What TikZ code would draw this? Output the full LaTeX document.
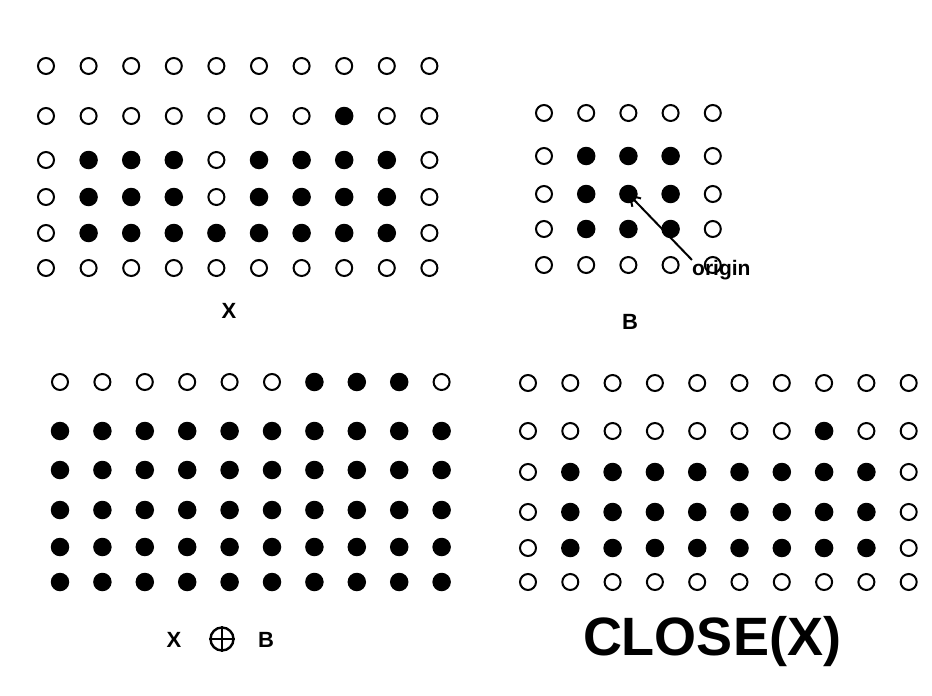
\documentclass[tikz,border=0pt]{standalone}
\usepackage{fontspec}
\setmainfont{Liberation Sans}
\usetikzlibrary{arrows.meta}
\begin{document}
\begin{tikzpicture}[x=1pt,y=-1pt,
  d0/.style={circle,draw=black,line width=2pt,fill=white,minimum size=16pt,inner sep=0pt},
  d1/.style={circle,fill=black,minimum size=18.5pt,inner sep=0pt},
  lab/.style={font=\bfseries\fontsize{22}{24}\selectfont,inner sep=0pt},
  olab/.style={font=\bfseries\fontsize{21}{24}\selectfont,inner sep=0pt},
  biglab/.style={font=\bfseries\fontsize{54}{60}\selectfont,inner sep=0pt},
  arr/.style={line width=2pt,-{Straight Barb[length=10pt,width=12pt,line width=2pt]}}]
\useasboundingbox[fill=white] (0,0) rectangle (932,696);
% Panel X
\foreach \y/\row [count=\r] in {
  66/{0,0,0,0,0,0,0,0,0,0},
  116/{0,0,0,0,0,0,0,1,0,0},
  160/{0,1,1,1,0,1,1,1,1,0},
  197/{0,1,1,1,0,1,1,1,1,0},
  233/{0,1,1,1,1,1,1,1,1,0},
  268/{0,0,0,0,0,0,0,0,0,0}}{
  \foreach \v [count=\c] in \row {
    \node[d\v] (pa-\r-\c) at ({46+(\c-1)*42.6},\y) {};
  }
}
% Panel B
\foreach \y/\row [count=\r] in {
  113/{0,0,0,0,0},
  156/{0,1,1,1,0},
  194/{0,1,1,1,0},
  229/{0,1,1,1,0},
  265/{0,0,0,0,0}}{
  \foreach \v [count=\c] in \row {
    \node[d\v] (pb-\r-\c) at ({544+(\c-1)*42.2},\y) {};
  }
}
% Panel X (+) B
\foreach \y/\row [count=\r] in {
  382/{0,0,0,0,0,0,1,1,1,0},
  431/{1,1,1,1,1,1,1,1,1,1},
  470/{1,1,1,1,1,1,1,1,1,1},
  510/{1,1,1,1,1,1,1,1,1,1},
  547/{1,1,1,1,1,1,1,1,1,1},
  582/{1,1,1,1,1,1,1,1,1,1}}{
  \foreach \v [count=\c] in \row {
    \node[d\v] (pc-\r-\c) at ({60+(\c-1)*42.4},\y) {};
  }
}
% Panel CLOSE(X)
\foreach \y/\row [count=\r] in {
  383/{0,0,0,0,0,0,0,0,0,0},
  431/{0,0,0,0,0,0,0,1,0,0},
  472/{0,1,1,1,1,1,1,1,1,0},
  512/{0,1,1,1,1,1,1,1,1,0},
  548/{0,1,1,1,1,1,1,1,1,0},
  582/{0,0,0,0,0,0,0,0,0,0}}{
  \foreach \v [count=\c] in \row {
    \node[d\v] (pd-\r-\c) at ({528+(\c-1)*42.3},\y) {};
  }
}
% labels
\node[lab] (lx) at (229,311) {X};
\node[lab] (lb) at (630,322) {B};
\node[olab,anchor=west] (orig) at (692,270) {origin};
\draw[arr] (orig.north west) -- (pb-3-3.center);
\node[lab] (lx2) at (174,640) {X};
\node[circle,draw=black,line width=2.4pt,minimum size=23pt,inner sep=0pt] (oplus) at (222,639) {};
\draw[line width=2.4pt] (oplus.north) -- (oplus.south) (oplus.west) -- (oplus.east);
\node[lab] (lb2) at (266,640) {B};
\node[biglab] (close) at (712,642) {CLOSE(X)};
\end{tikzpicture}
\end{document}
